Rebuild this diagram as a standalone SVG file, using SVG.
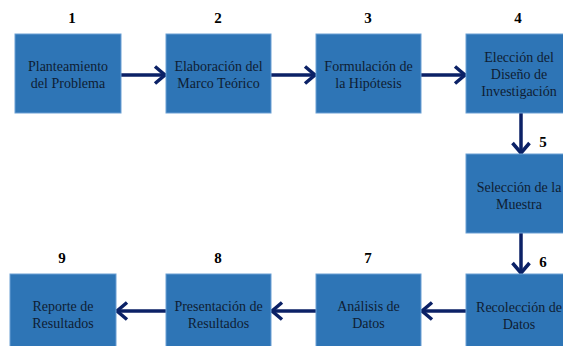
<svg xmlns="http://www.w3.org/2000/svg" width="563" height="346" viewBox="0 0 563 346">
<style>
.box{fill:#2E75B6;stroke:#6a9fd4;stroke-width:1}
.t{font-family:"Liberation Serif","Times New Roman",serif;font-size:14px;fill:#0f1d33;text-anchor:middle}
.n{font-family:"Liberation Serif","Times New Roman",serif;font-size:15px;font-weight:bold;fill:#000;text-anchor:middle}
.c{stroke:#0B2166;stroke-width:3.5;fill:none}
</style>
<defs>
<marker id="ah" viewBox="-14 -11 16 22" refX="0" refY="0" markerWidth="16" markerHeight="22" markerUnits="userSpaceOnUse" orient="auto">
<path d="M-11,-8.5 L-1,0 L-11,8.5" fill="none" stroke="#0B2166" stroke-width="3.5" stroke-linejoin="miter"/>
</marker>
</defs>
<rect width="563" height="346" fill="#fff"/>
<g id="connectors">
<line class="c" x1="121" y1="75" x2="166" y2="75" marker-end="url(#ah)"/>
<line class="c" x1="271" y1="75" x2="316" y2="75" marker-end="url(#ah)"/>
<line class="c" x1="421" y1="75" x2="466" y2="75" marker-end="url(#ah)"/>
<line class="c" x1="521" y1="113" x2="521" y2="154" marker-end="url(#ah)"/>
<line class="c" x1="521" y1="233" x2="521" y2="274" marker-end="url(#ah)"/>
<line class="c" x1="466" y1="311" x2="421" y2="311" marker-end="url(#ah)"/>
<line class="c" x1="316" y1="311" x2="271" y2="311" marker-end="url(#ah)"/>
<line class="c" x1="166" y1="311" x2="116" y2="311" marker-end="url(#ah)"/>
</g>
<g id="n1">
<text class="n" x="72" y="23">1</text>
<rect class="box" x="15" y="34" width="106" height="79"/>
<text class="t" x="68" y="71">Planteamiento</text>
<text class="t" x="68" y="88">del Problema</text>
</g>
<g id="n2">
<text class="n" x="218" y="23">2</text>
<rect class="box" x="166" y="34" width="105" height="79"/>
<text class="t" x="218.5" y="71">Elaboración del</text>
<text class="t" x="218.5" y="88">Marco Teórico</text>
</g>
<g id="n3">
<text class="n" x="368" y="23">3</text>
<rect class="box" x="316" y="34" width="105" height="79"/>
<text class="t" x="368.5" y="71">Formulación de</text>
<text class="t" x="368.5" y="88">la Hipótesis</text>
</g>
<g id="n4">
<text class="n" x="518" y="23">4</text>
<rect class="box" x="466" y="34" width="105" height="79"/>
<text class="t" x="519" y="62">Elección del</text>
<text class="t" x="519" y="79">Diseño de</text>
<text class="t" x="519" y="96">Investigación</text>
</g>
<g id="n5">
<text class="n" x="543" y="147">5</text>
<rect class="box" x="466" y="154" width="105" height="79"/>
<text class="t" x="519" y="192">Selección de la</text>
<text class="t" x="519" y="209">Muestra</text>
</g>
<g id="n6">
<text class="n" x="543" y="267">6</text>
<rect class="box" x="466" y="274" width="105" height="79"/>
<text class="t" x="519" y="312">Recolección de</text>
<text class="t" x="519" y="329">Datos</text>
</g>
<g id="n7">
<text class="n" x="368" y="263">7</text>
<rect class="box" x="316" y="274" width="105" height="79"/>
<text class="t" x="368.5" y="311">Análisis de</text>
<text class="t" x="368.5" y="328">Datos</text>
</g>
<g id="n8">
<text class="n" x="218" y="263">8</text>
<rect class="box" x="166" y="274" width="105" height="79"/>
<text class="t" x="218.5" y="311">Presentación de</text>
<text class="t" x="218.5" y="328">Resultados</text>
</g>
<g id="n9">
<text class="n" x="62" y="263">9</text>
<rect class="box" x="10" y="274" width="106" height="79"/>
<text class="t" x="63" y="311">Reporte de</text>
<text class="t" x="63" y="328">Resultados</text>
</g>
</svg>
